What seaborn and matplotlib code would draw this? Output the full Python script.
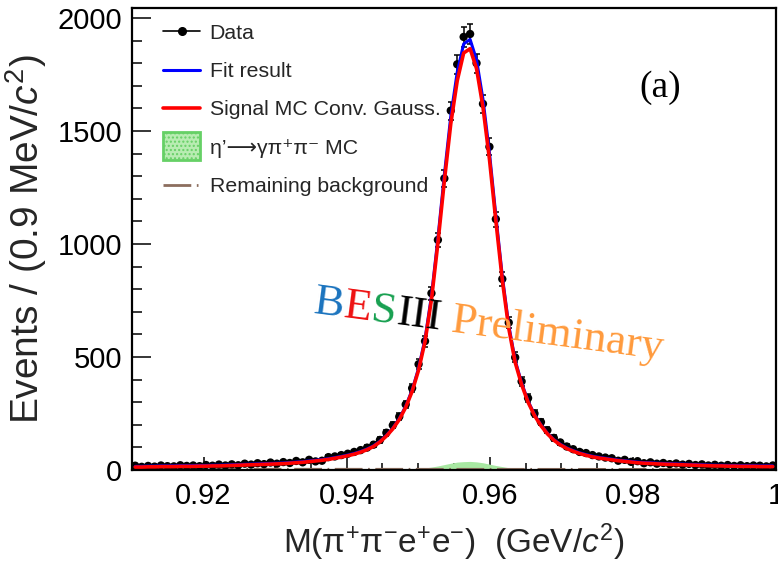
import numpy as np
import pandas as pd
import matplotlib
matplotlib.use("Agg")
import matplotlib.pyplot as plt
import seaborn as sns
from matplotlib.lines import Line2D
from matplotlib.patches import Patch, Rectangle
from matplotlib.legend_handler import HandlerPatch
from matplotlib.ticker import MultipleLocator, FixedLocator

# ---------------- data ----------------
x_low, x_high, n_bins = 0.91, 1.0, 100

data_counts = [19, 14, 18, 15, 20, 17, 16, 21, 18, 20,
               17, 22, 19, 24, 20, 25, 21, 28, 24, 30,
               26, 33, 28, 35, 31, 40, 34, 45, 38, 41,
               57, 60, 66, 72, 80, 88, 99, 112, 133, 165,
               198, 236, 290, 362, 468, 570, 782, 1018, 1290, 1590,
               1795, 1916, 1929, 1800, 1620, 1430, 1110, 845, 652, 498,
               392, 318, 250, 212, 176, 142, 122, 104, 92, 80,
               75, 66, 60, 55, 52, 41, 45, 36, 39, 30,
               34, 28, 31, 26, 29, 24, 27, 22, 25, 20,
               23, 19, 22, 18, 21, 17, 20, 19, 16, 20]

fit_total = [16, 16, 17, 17, 18, 18, 18, 19, 19, 19,
             20, 20, 21, 21, 22, 23, 24, 25, 26, 27,
             28, 29, 30, 31, 33, 35, 37, 40, 43, 46,
             50, 55, 60, 66, 73, 82, 93, 107, 127, 153,
             185, 227, 282, 354, 450, 580, 770, 1025, 1305, 1565,
             1760, 1885, 1905, 1815, 1640, 1405, 1125, 858, 640, 485,
             385, 305, 245, 199, 163, 135, 114, 98, 86, 76,
             68, 61, 56, 52, 48, 44, 41, 38, 35, 33,
             32, 30, 29, 28, 27, 26, 25, 24, 23, 22,
             21, 21, 20, 20, 19, 19, 19, 18, 18, 18]

signal_mc = [13, 13, 14, 14, 15, 15, 15, 16, 16, 16,
             17, 17, 18, 18, 19, 20, 21, 22, 23, 24,
             25, 26, 27, 28, 30, 32, 34, 37, 40, 43,
             47, 52, 57, 63, 70, 79, 90, 104, 124, 150,
             182, 223, 277, 348, 442, 568, 754, 1004, 1278, 1532,
             1722, 1845, 1864, 1776, 1605, 1376, 1102, 840, 627, 476,
             378, 300, 241, 196, 160, 132, 111, 95, 83, 73,
             65, 58, 53, 49, 45, 41, 38, 35, 32, 30,
             29, 27, 26, 25, 24, 23, 22, 21, 20, 19,
             18, 18, 17, 17, 16, 16, 16, 15, 15, 15]

gpp_mc = [0, 0, 0, 0, 0, 0, 0, 0, 0, 0,
          0, 0, 0, 0, 0, 0, 0, 0, 0, 0,
          0, 0, 0, 0, 0, 0, 0, 0, 0, 0,
          0, 0, 0, 0, 0, 0, 0, 0, 0, 0,
          0, 1, 2, 3, 5, 9, 13, 18, 24, 30,
          35, 37, 38, 36, 32, 26, 20, 15, 10, 6,
          4, 2, 1, 0, 0, 0, 0, 0, 0, 0,
          0, 0, 0, 0, 0, 0, 0, 0, 0, 0,
          0, 0, 0, 0, 0, 0, 0, 0, 0, 0,
          0, 0, 0, 0, 0, 0, 0, 0, 0, 0]

bg_mass = [0.91, 1.0]
bg_level = [3.5, 2.5]

x_tick_values = [0.92, 0.94, 0.96, 0.98, 1.0]
x_tick_labels = ["0.92", "0.94", "0.96", "0.98", "1"]
y_tick_values = [0, 500, 1000, 1500, 2000]

legend_labels = ["Data", "Fit result", "Signal MC Conv. Gauss.",
                 "η’⟶γπ⁺π⁻ MC",
                 "Remaining background"]

# ---------------- style ----------------
sns.set_theme(style="ticks")
plt.rcParams["font.family"] = ["Liberation Sans", "DejaVu Sans"]
plt.rcParams["mathtext.fontset"] = "custom"
plt.rcParams["mathtext.rm"] = "Liberation Sans"
plt.rcParams["mathtext.it"] = "Liberation Sans:italic"
plt.rcParams["mathtext.bf"] = "Liberation Sans:bold"

W, H = 778, 565
fig = plt.figure(figsize=(W / 100, H / 100), dpi=100)
fig.patch.set_facecolor("white")
ax = fig.add_axes([132 / W, 1 - 470 / H, 644 / W, 462 / H])
ax.set_facecolor("white")

bw = (x_high - x_low) / n_bins
centers = x_low + (np.arange(n_bins) + 0.5) * bw
df = pd.DataFrame({"mass": centers, "data": data_counts, "fit": fit_total,
                   "sig": signal_mc, "gpp": gpp_mc})

# green MC component
ax.fill_between(df["mass"], 0, df["gpp"], color="#a8e8a2", lw=0, zorder=1)
# remaining background
ax.plot(bg_mass, bg_level, color="#8c6e5e", lw=2.0,
        dashes=(10, 2, 0.6, 2), zorder=2)

# data points
ax.errorbar(df["mass"], df["data"], yerr=np.sqrt(df["data"]), fmt="none",
            ecolor="black", elinewidth=1.1, capsize=2.2, capthick=1.1, zorder=3)
sns.scatterplot(data=df, x="mass", y="data", color="black", s=36,
                edgecolor="none", ax=ax, zorder=3, legend=False)

# curves
sns.lineplot(data=df, x="mass", y="fit", color="#0000ff", lw=2.2, ax=ax,
             zorder=4, legend=False)
sns.lineplot(data=df, x="mass", y="sig", color="#ff0000", lw=2.6, ax=ax,
             zorder=5, legend=False)

# axes
ax.set_xlim(x_low, x_high)
ax.set_ylim(0, 2044)
ax.xaxis.set_major_locator(FixedLocator(x_tick_values))
ax.set_xticklabels(x_tick_labels)
ax.xaxis.set_minor_locator(MultipleLocator(0.005))
ax.yaxis.set_major_locator(FixedLocator(y_tick_values))
ax.yaxis.set_minor_locator(MultipleLocator(100))
ax.tick_params(axis="both", which="both", direction="in", colors="black",
               width=1.1, labelsize=21)
ax.tick_params(axis="x", which="major", length=9.5, pad=9)
ax.tick_params(axis="x", which="minor", length=5)
ax.tick_params(axis="y", which="major", length=14, pad=7)
ax.tick_params(axis="y", which="minor", length=7)
for sp in ax.spines.values():
    sp.set_visible(True)
    sp.set_linewidth(1.6)
    sp.set_color("black")

ax.set_xlabel(r"M($\mathrm{\pi^{+}\pi^{-}e^{+}e^{-}}$)  (GeV/$c^{2}$)",
              fontsize=24, labelpad=8)
ax.set_ylabel(r"Events / (0.9 MeV/$c^{2}$)", fontsize=28, labelpad=6)


# legend
def big_box(legend, orig_handle, xdescent, ydescent, width, height, fontsize):
    return Rectangle((-xdescent, -ydescent - 0.45 * height), width, height * 1.9)


handles = [
    Line2D([0], [0], color="black", lw=1.2, marker="o", markersize=5.5),
    Line2D([0], [0], color="#0000ff", lw=2.2),
    Line2D([0], [0], color="#ff0000", lw=2.6),
    Patch(facecolor="#b8ecb2", edgecolor="#66d066", lw=2, hatch="...."),
    Line2D([0], [0], color="#8c6e5e", lw=2.0, dashes=(10, 2, 0.6, 2)),
]
leg = ax.legend(handles, legend_labels, loc="upper left",
                bbox_to_anchor=(0.048, 0.966), frameon=False, fontsize=15.3,
                handlelength=1.75, handletextpad=0.45, labelspacing=0.91,
                borderpad=0, borderaxespad=0,
                handler_map={Patch: HandlerPatch(patch_func=big_box)})
for t in leg.get_texts():
    t.set_family(["Liberation Sans", "DejaVu Sans"])

# (a)
fig.text(660 / W, 1 - 88 / H, "(a)", ha="center", va="center",
         fontsize=27, family="Liberation Serif", color="black")

# BESIII Preliminary
renderer = fig.canvas.get_renderer()
angle = -7.5
th = np.deg2rad(angle)
pieces = [("B", "#1a73be"), ("E", "#ee1111"), ("S", "#17a050"),
          ("III", "black"), (" Preliminary", "#ff9a3c")]
px, py = 313.0, H - 313.0
for s, c in pieces:
    fig.text(px / W, py / H, s, color=c, fontsize=32.5, family="Liberation Serif",
             rotation=angle, rotation_mode="anchor", ha="left", va="baseline",
             zorder=10)
    tmp = fig.text(0, 0, s.replace(" ", "\u00a0"), fontsize=32.5,
                   family="Liberation Serif")
    w = tmp.get_window_extent(renderer).width
    tmp.remove()
    px += w * np.cos(th)
    py += w * np.sin(th)

fig.savefig("out.png", dpi=100, facecolor="white")
